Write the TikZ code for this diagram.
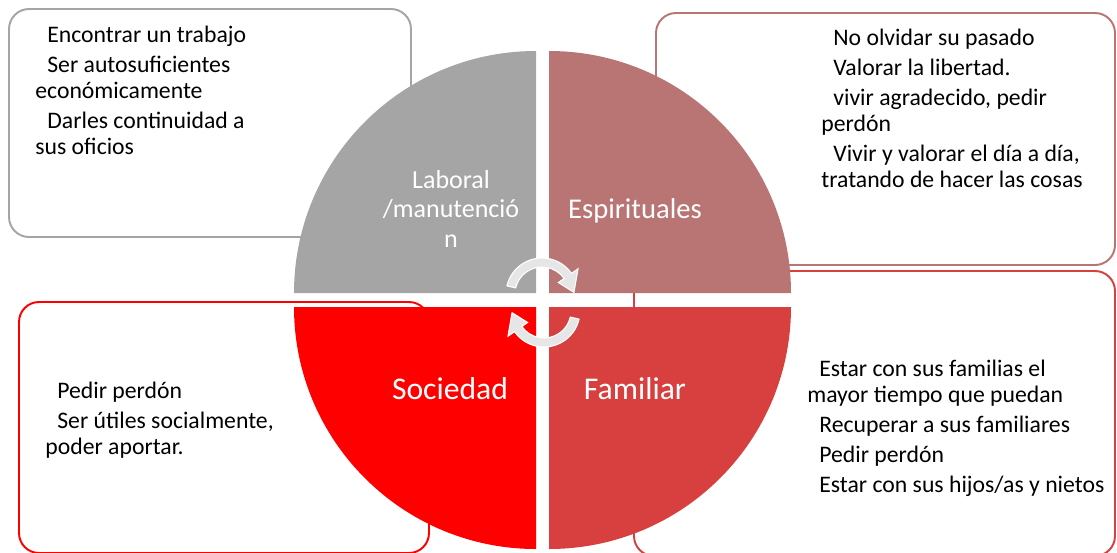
\documentclass[tikz,border=0pt]{standalone}
\usepackage{fontspec}
\setmainfont{Carlito}
\usetikzlibrary{calc}

\definecolor{labgray}{HTML}{A5A5A5}
\definecolor{espros}{HTML}{B87574}
\definecolor{socred}{HTML}{FF0000}
\definecolor{famred}{HTML}{D83F3F}
\definecolor{cycgray}{HTML}{E6E6E6}

\newcommand\ind{\hspace*{0.24cm}}

\begin{document}
\begin{tikzpicture}[x=0.02cm, y=0.02cm,
    box/.style={fill=white, line width=1.1pt, rounded corners=0.4cm},
    boxtext/.style={anchor=base west, align=left, inner sep=0pt, font=\fontsize{13.5}{14.7}\selectfont},
    quadlabel/.style={text=white, anchor=base, inner sep=0pt, font=\fontsize{18}{20}\selectfont},
    cyclearrow/.style={fill=cycgray, draw=white, line width=0.6pt}]
    % Circle radius and paragraph gap
    \def\radius{242}
    \def\pgap{0.08cm}

    \useasboundingbox (0,0) rectangle (1117,-552);

    % Text boxes behind the circle
    \draw[box, draw=labgray] (9,-9) rectangle (411,-237);
    \draw[box, draw=espros] (656,-13) rectangle (1115,-265);
    \draw[box, draw=socred] (19,-302) rectangle (429,-553);
    \draw[box, draw=famred] (634,-271) rectangle (1115,-556);

    % Quarter discs
    \fill[labgray] (536,-293) -- ++(180:\radius) arc[start angle=180, end angle=90, radius=\radius] -- cycle;
    \fill[espros] (549,-293) -- ++(90:\radius) arc[start angle=90, end angle=0, radius=\radius] -- cycle;
    \fill[socred] (536,-307) -- ++(270:\radius) arc[start angle=270, end angle=180, radius=\radius] -- cycle;
    \fill[famred] (549,-307) -- ++(0:\radius) arc[start angle=0, end angle=-90, radius=\radius] -- cycle;

    % Quadrant labels (base = last line)
    \node[quadlabel, align=center, font=\fontsize{14.8}{16.7}\selectfont] (laboral) at (451,-247) {Laboral\\/manutenció\\n};
    \node[quadlabel, font=\fontsize{16.3}{18}\selectfont] (espirituales) at (635,-218) {Espirituales};
    \node[quadlabel] (sociedad) at (450,-399) {Sociedad};
    \node[quadlabel] (familiar) at (635,-399) {Familiar};

    % Cycle arrows in the middle
    \coordinate (topc) at (542,-294);
    \coordinate (botc) at (544,-311);
    \filldraw[cyclearrow] ($(topc)+(167:36)$) arc[start angle=167, end angle=35, radius=36]
        -- ($(topc)+(35:44)$) -- ($(topc)+(3:32)$) -- ($(topc)+(35:20)$)
        -- ($(topc)+(35:27)$) arc[start angle=35, end angle=167, radius=27] -- cycle;
    \filldraw[cyclearrow] ($(botc)+(-13:36)$) arc[start angle=-13, end angle=-145, radius=36]
        -- ($(botc)+(-145:44)$) -- ($(botc)+(-177:32)$) -- ($(botc)+(-145:20)$)
        -- ($(botc)+(-145:27)$) arc[start angle=-145, end angle=-13, radius=27] -- cycle;

    % Box texts (base = last line)
    \node[boxtext] (laboraltext) at (35,-154) {\ind Encontrar un trabajo\\[\pgap]
        \ind Ser autosuficientes\\económicamente\\[\pgap]
        \ind Darles continuidad a\\sus oficios};
    \node[boxtext] (espirtext) at (821,-187) {\ind No olvidar su pasado\\[\pgap]
        \ind Valorar la libertad.\\[\pgap]
        \ind vivir agradecido, pedir\\perdón\\[\pgap]
        \ind Vivir y valorar el día a día,\\tratando de hacer las cosas};
    \node[boxtext] (sociedadtext) at (45,-454) {\ind Pedir perdón\\[\pgap]
        \ind Ser útiles socialmente,\\poder aportar.};
    \node[boxtext] (familiartext) at (807,-492) {\ind Estar con sus familias el\\mayor tiempo que puedan\\[\pgap]
        \ind Recuperar a sus familiares\\[\pgap]
        \ind Pedir perdón\\[\pgap]
        \ind Estar con sus hijos/as y nietos};
\end{tikzpicture}
\end{document}
